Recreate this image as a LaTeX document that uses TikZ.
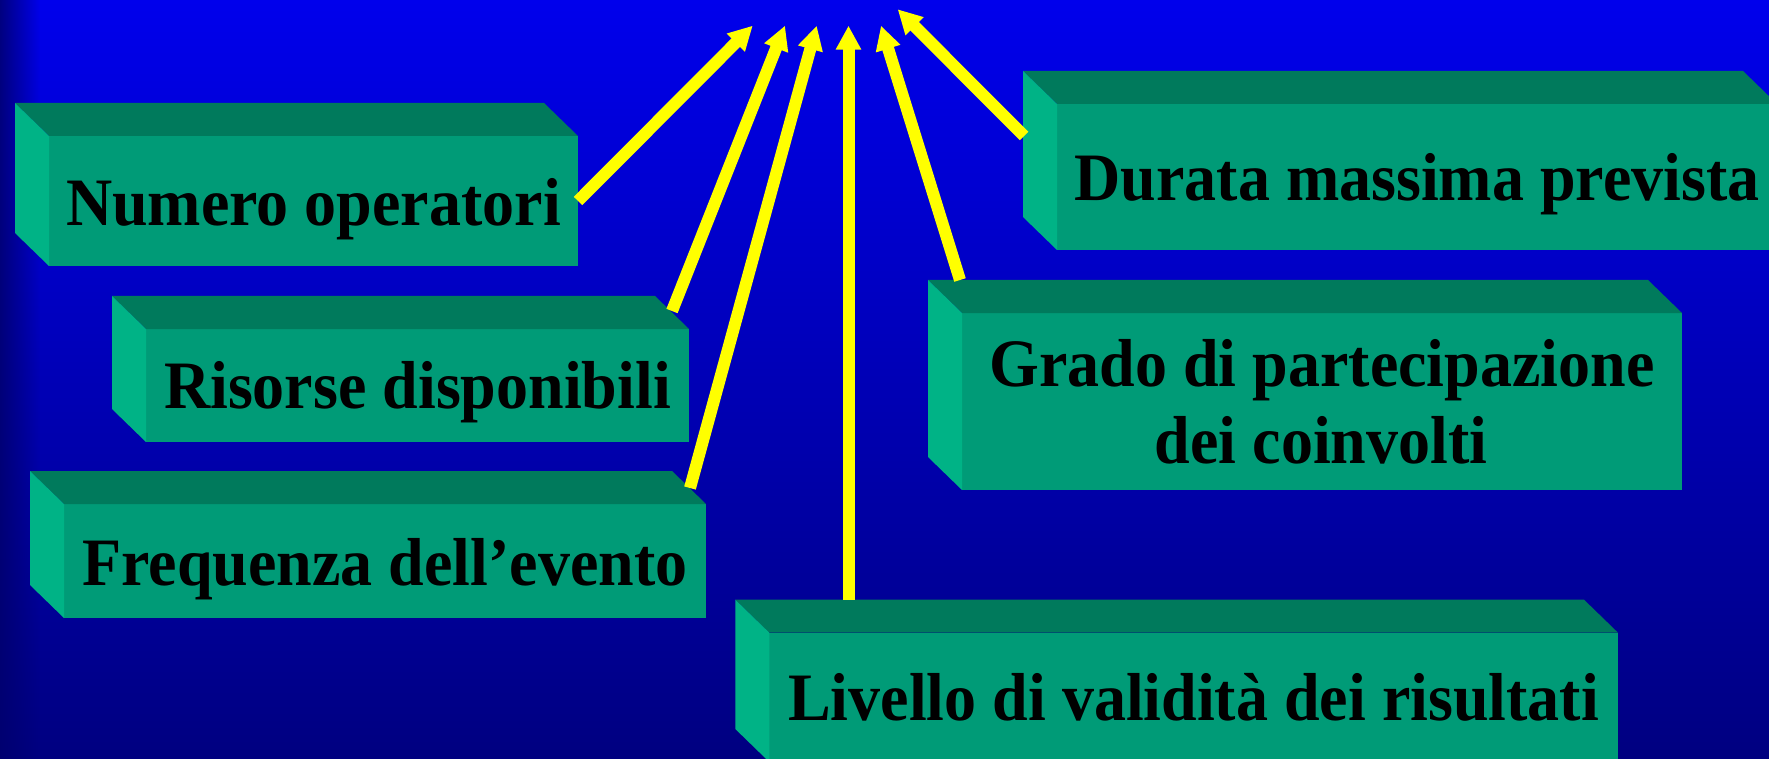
\documentclass[tikz,border=0pt]{standalone}
\usepackage{graphicx}
\usepackage{fontspec}
\setmainfont{Liberation Serif}
\usetikzlibrary{arrows.meta,calc}
\definecolor{bgtop}{RGB}{0,0,236}
\definecolor{bgbot}{RGB}{0,0,128}
\definecolor{bgedge}{RGB}{0,0,110}
\definecolor{frontc}{RGB}{0,155,119}
\definecolor{topc}{RGB}{0,122,92}
\definecolor{sidec}{RGB}{0,179,134}
\definecolor{arrowc}{RGB}{255,255,0}
\newcommand{\slab}[5]{%
  \pgfmathsetmacro{\slw}{#4-#2}\pgfmathsetmacro{\slh}{#5-#3}%
  \node[frontface, minimum width=\slw pt, minimum height=\slh pt, anchor=north west] (#1) at (#2,#3) {};
  \fill[topc] (#1.north west) -- ++(-34,-33) -- ($(#1.north east)+(-34,-33)$) -- (#1.north east) -- cycle;
  \fill[sidec] (#1.north west) -- ++(-34,-33) -- ($(#1.south west)+(-34,-33)$) -- (#1.south west) -- cycle;
}
\newcommand{\tall}[1]{\scalebox{1}[1.06]{#1}}
\begin{document}
\begin{tikzpicture}[x=1pt,y=-1pt,
  frontface/.style={fill=frontc, draw=none, inner sep=0pt, outer sep=0pt},
  lbl/.style={font=\fontsize{64}{76}\selectfont\bfseries, text=black, inner sep=0pt, anchor=base},
  arr/.style={draw=arrowc, line width=12pt, -{Triangle[width=24pt,length=24pt]}}]
\useasboundingbox (0,0) rectangle (1769,759);
\clip (0,0) rectangle (1769,759);
\fill[top color=bgtop, bottom color=bgbot] (0,0) rectangle (1769,759);
\foreach \i in {0,...,39} {
  \pgfmathsetmacro{\edgeop}{0.85*(1-\i/40)}
  \fill[bgedge, opacity=\edgeop] (\i,0) rectangle (\i+1.2,759);
}

\slab{num}{49}{136}{578}{266}
\slab{ris}{146}{329}{689}{442}
\slab{freq}{64}{504}{706}{618}
\slab{liv}{769.3}{632.7}{1618}{762}
\slab{gra}{962}{313}{1682}{490}
\slab{dur}{1057}{104}{1777}{250}

\node[lbl] (numT) at (313.5,226) {\tall{Numero operatori}};
\node[lbl] (risT) at (417.5,408) {\tall{Risorse disponibili}};
\node[lbl] (freqT) at (385,585) {\tall{Frequenza dell’evento}};
\node[lbl] (livT) at (1193.5,720) {\tall{Livello di validità dei risultati}};
\node[lbl] (graT1) at (1322,386.7) {\tall{Grado di partecipazione}};
\node[lbl] (graT2) at (1321,463) {\tall{dei coinvolti}};
\node[lbl] (durT) at (1417,200.7) {\tall{Durata massima prevista}};

\coordinate (t1) at (752.7,25.7);
\coordinate (t2) at (785,25.7);
\coordinate (t3) at (816.7,25.7);
\coordinate (t4) at (848.5,25.7);
\coordinate (t5) at (881,25.7);
\coordinate (t6) at (897.7,9.3);

\draw[arr] (num.east) -- (t1);
\draw[arr] ($(ris.north east)+(-17,-18)$) -- (t2);
\draw[arr] ($(freq.north east)+(-16,-16)$) -- (t3);
\draw[arr] ($(liv.north west)+(79.2,-33)$) -- (t4);
\draw[arr] ($(gra.north west)+(-2,-33)$) -- (t5);
\draw[arr] ($(dur.north west)+(-33,32)$) -- (t6);
\end{tikzpicture}
\end{document}
